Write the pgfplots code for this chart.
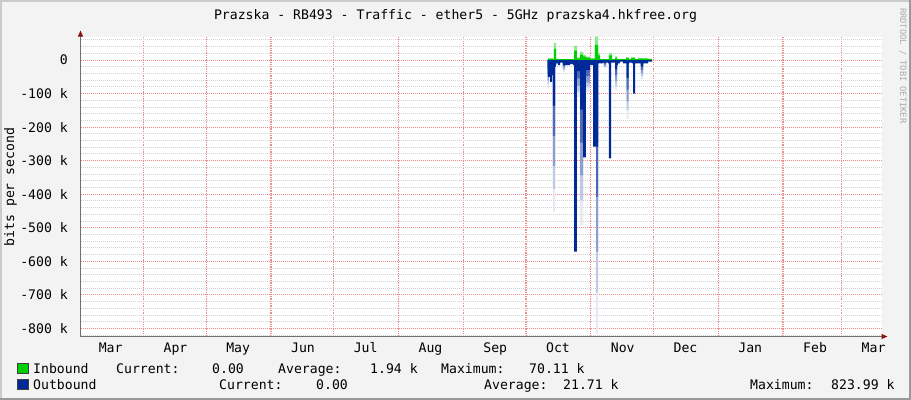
\documentclass[border=0pt]{standalone}
\usepackage{fontspec}
\setmainfont{DejaVu Sans Mono}
\usepackage{pgfplots}
\pgfplotsset{compat=1.18}
\usetikzlibrary{arrows.meta}
\definecolor{bgc}{HTML}{F3F3F3}
\definecolor{ingreen}{HTML}{00CF00}
\definecolor{outblue}{HTML}{002A97}
\definecolor{gridgrey}{HTML}{D2D2D2}
\definecolor{gridred}{HTML}{EE8C8C}
\definecolor{axisgrey}{HTML}{707070}
\definecolor{arrowred}{HTML}{8B1010}
\definecolor{shadea}{HTML}{CBCBCB}
\definecolor{shadeb}{HTML}{999999}
\begin{document}
\fontsize{13.15bp}{15bp}\selectfont
\begin{tikzpicture}
\path[use as bounding box, fill=bgc] (0,0) rectangle (911bp,-400bp);
\fill[shadea] (0,0) rectangle (911bp,-1.5bp);
\fill[shadea] (0,0) rectangle (1.5bp,-400bp);
\fill[shadeb] (908.5bp,0) rectangle (911bp,-400bp);
\fill[shadeb] (0,-397.5bp) rectangle (911bp,-400bp);
\begin{axis}[
  at={(80.5bp,-336.5bp)}, anchor=south west,
  scale only axis, width=801bp, height=300bp,
  xmin=0.85, xmax=384.1, ymin=-823.99, ymax=70.11,
  axis background/.style={fill=white},
  axis x line=bottom, axis y line=left,
  x axis line style={draw=axisgrey, line width=1bp, shorten >=-6bp, -{Triangle[length=6bp,width=5bp,color=arrowred]}},
  y axis line style={draw=axisgrey, line width=1bp, shorten >=-6bp, -{Triangle[length=6bp,width=5bp,color=arrowred]}},
  xtick={15.3,46.3,76.3,107.3,137.3,168.3,199.3,229.3,260.3,290.3,321.3,352.3,380.3},
  xticklabels={Mar,Apr,May,Jun,Jul,Aug,Sep,Oct,Nov,Dec,Jan,Feb,Mar},
  minor xtick={31,61,92,122,153,184,214,245,275,306,337,365},
  xminorgrids=true, xmajorgrids=false,
  ytick={-800,-700,-600,-500,-400,-300,-200,-100,0},
  yticklabels={-800 k,-700 k,-600 k,-500 k,-400 k,-300 k,-200 k,-100 k,0},
  minor ytick={-820,-780,-760,-740,-720,-680,-660,-640,-620,-580,-560,-540,-520,-480,-460,-440,-420,-380,-360,-340,-320,-280,-260,-240,-220,-180,-160,-140,-120,-80,-60,-40,-20,20,40,60},
  ymajorgrids=true, yminorgrids=true,
  minor x grid style={gridred, line width=1.3bp, dash pattern=on 1.3bp off 1bp},
  major y grid style={gridred, line width=1bp, dash pattern=on 1bp off 1bp},
  minor y grid style={gridgrey, line width=1bp, dash pattern=on 1bp off 1bp},
  major tick length=0pt, minor tick length=0pt,
  xticklabel style={anchor=base, yshift=-15.5bp, inner sep=0pt},
  yticklabel style={anchor=east, xshift=-12.5bp, inner sep=0pt},
  ylabel={bits per second},
  ylabel style={at={(axis description cs:-0.0874,0.498)}, anchor=center},
]
% Inbound (green): lighter tips, then solid body
\addplot[fill=ingreen!45, draw=none, const plot] coordinates {
(224.1,0) (224.5,5) (226.9,3) (227.4,50) (228.4,4) (229.3,3) (237.0,42) (238.4,8)
(239.9,25) (241.3,15) (242.7,10) (244.6,5) (247.0,70) (248.5,21) (249.4,3)
(253.7,21) (255.2,3) (256.6,11) (257.6,3) (261.9,9) (263.3,3) (264.3,9) (266.2,3)
(267.6,6) (272.4,4) (274.3,0)} \closedcycle;
\addplot[fill=ingreen, draw=none, const plot] coordinates {
(224.1,0) (224.5,4) (226.9,3) (227.4,33) (228.4,3) (229.3,3) (237.0,28) (238.4,5)
(239.9,16) (241.3,10) (242.7,7) (244.6,4) (247.0,45) (248.5,14) (249.4,3)
(253.7,14) (255.2,3) (256.6,7) (257.6,3) (261.9,6) (263.3,3) (264.3,6) (266.2,3)
(267.6,4) (272.4,3) (274.3,0)} \closedcycle;
% Outbound spikes that fade towards their tips: lightest (full depth) first
\addplot[fill=outblue!10, draw=none, const plot] coordinates {
(224.0,0) (224.4,-85) (225.0,0) (226.9,-452) (227.9,0) (231.7,-35) (232.7,0)
(238.4,-110) (239.9,-492) (241.3,0) (242.7,-95) (244.6,0) (247.5,-815) (248.5,0)
(251.3,-25) (252.3,0) (256.6,-90) (257.6,0) (262.2,-175) (263.1,0) (269.0,-57) (270.0,0)} \closedcycle;
\addplot[fill=outblue!25, draw=none, const plot] coordinates {
(224.0,0) (224.4,-72) (225.0,0) (226.9,-384) (227.9,0) (231.7,-30) (232.7,0)
(238.4,-94) (239.9,-418) (241.3,0) (242.7,-81) (244.6,0) (247.5,-693) (248.5,0)
(251.3,-21) (252.3,0) (256.6,-77) (257.6,0) (262.2,-149) (263.1,0) (269.0,-48) (270.0,0)} \closedcycle;
\addplot[fill=outblue!45, draw=none, const plot] coordinates {
(224.0,0) (224.4,-60) (225.0,0) (226.9,-316) (227.9,0) (231.7,-25) (232.7,0)
(238.4,-77) (239.9,-344) (241.3,0) (242.7,-67) (244.6,0) (247.5,-571) (248.5,0)
(251.3,-18) (252.3,0) (256.6,-63) (257.6,0) (262.2,-123) (263.1,0) (269.0,-40) (270.0,0)} \closedcycle;
\addplot[fill=outblue!70, draw=none, const plot] coordinates {
(224.0,0) (224.4,-43) (225.0,0) (226.9,-226) (227.9,0) (231.7,-18) (232.7,0)
(238.4,-55) (239.9,-246) (241.3,0) (242.7,-48) (244.6,0) (247.5,-408) (248.5,0)
(251.3,-13) (252.3,0) (256.6,-45) (257.6,0) (262.2,-88) (263.1,0) (269.0,-29) (270.0,0)} \closedcycle;
\addplot[fill=outblue, draw=none, const plot] coordinates {
(224.0,0) (224.4,-26) (225.0,0) (226.9,-136) (227.9,0) (231.7,-11) (232.7,0)
(238.4,-33) (239.9,-148) (241.3,0) (242.7,-29) (244.6,0) (247.5,-245) (248.5,0)
(251.3,-8) (252.3,0) (256.6,-27) (257.6,0) (262.2,-53) (263.1,0) (269.0,-17) (270.0,0)} \closedcycle;
% Outbound (blue), solid part
\addplot[fill=outblue, draw=none, const plot] coordinates {
(224.1,0) (224.5,-50) (225.5,-65) (226.5,-45) (226.9,-20) (228.4,-10) (229.3,-15)
(230.3,-8) (231.7,-15) (235.1,-12) (236.5,-15) (237.0,-571) (238.4,-30) (239.9,-40)
(241.3,-290) (242.7,-30) (244.6,-15) (246.1,-258) (248.5,-10) (250.9,-8) (253.3,-10)
(253.7,-293) (254.7,-8) (256.6,-15) (258.0,-10) (259.0,-5) (260.4,-10) (262.3,-12)
(263.3,-8) (264.7,-10) (265.2,-100) (266.2,-10) (269.0,-20) (270.0,-10) (272.4,-5) (274.3,0)} \closedcycle;
\end{axis}
% title
\node[anchor=base, inner sep=0pt] at (455.5bp,-19.5bp) {Prazska - RB493 - Traffic - ether5 - 5GHz prazska4.hkfree.org};
% watermark
\node[rotate=-90, anchor=west, inner sep=0pt, text=black!33, font=\fontsize{8.7bp}{9bp}\selectfont] at (903bp,-8bp) {RRDTOOL / TOBI OETIKER};
% legend
\filldraw[fill=ingreen, draw=black!75, line width=0.8bp] (17.5bp,-363.5bp) rectangle (28.5bp,-373.5bp);
\filldraw[fill=outblue, draw=black!75, line width=0.8bp] (17.5bp,-379.5bp) rectangle (28.5bp,-389.5bp);
\begin{scope}[every node/.style={anchor=base west, inner sep=0pt}]
\node at (33bp,-373bp) {Inbound};
\node at (116bp,-373bp) {Current:};
\node at (212bp,-373bp) {0.00};
\node at (278bp,-373bp) {Average:};
\node at (370bp,-373bp) {1.94 k};
\node at (441bp,-373bp) {Maximum:};
\node at (529bp,-373bp) {70.11 k};
\node at (33bp,-389bp) {Outbound};
\node at (219bp,-389bp) {Current:};
\node at (316bp,-389bp) {0.00};
\node at (484bp,-389bp) {Average:};
\node at (563bp,-389bp) {21.71 k};
\node at (750bp,-389bp) {Maximum:};
\node at (831bp,-389bp) {823.99 k};
\end{scope}
\end{tikzpicture}
\end{document}
